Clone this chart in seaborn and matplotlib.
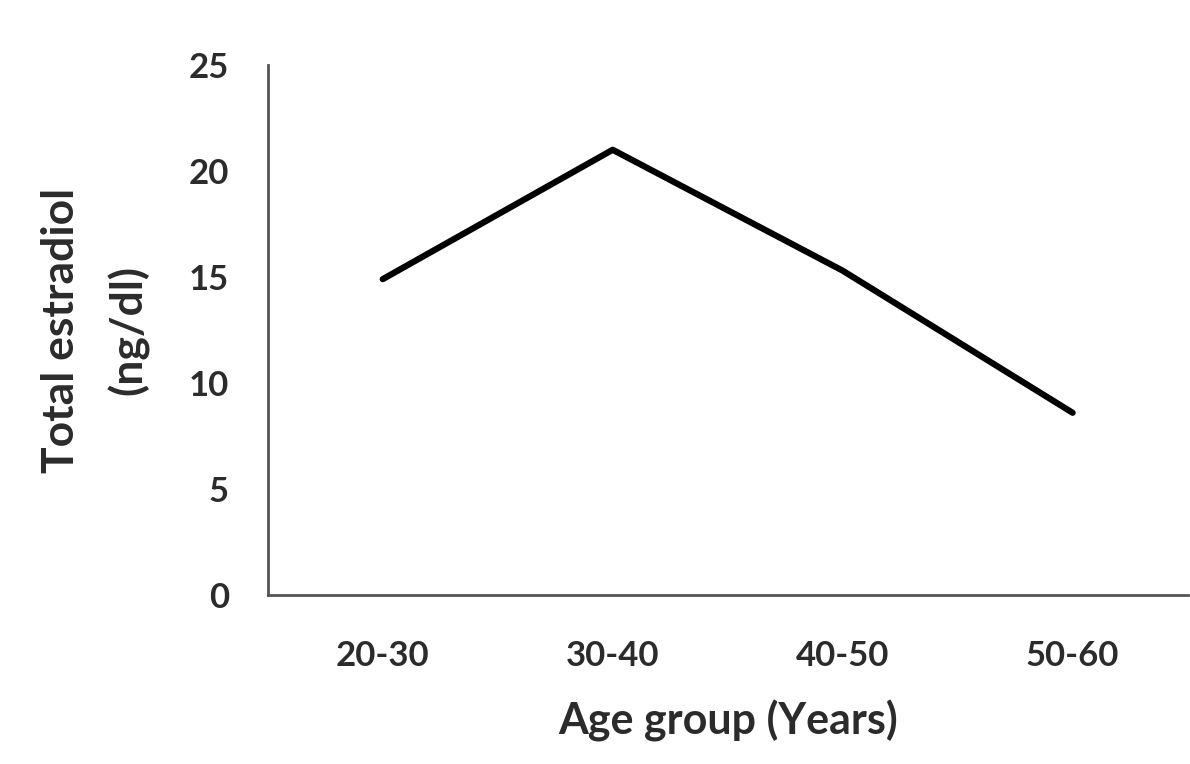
import pandas as pd
import matplotlib.pyplot as plt
import seaborn as sns

# values
age_groups = ["20-30", "30-40", "40-50", "50-60"]
estradiol = [14.9, 21.0, 15.3, 8.6]
y_ticks = [0, 5, 10, 15, 20, 25]

df = pd.DataFrame({"age": age_groups, "e2": estradiol})

sns.set_style("white")
plt.rcParams["font.family"] = ["Lato", "DejaVu Sans"]
text_col = "#2b2b2b"

fig = plt.figure(figsize=(11.9, 7.64), dpi=100)
ax = fig.add_axes([0.225, 0.221, 0.773, 0.694])

sns.lineplot(data=df, x="age", y="e2", color="black", linewidth=4.5,
             sort=False, ax=ax)

ax.set_xlim(-0.5, 3.5)
ax.set_ylim(0, 25)
ax.set_yticks(y_ticks)
ax.tick_params(axis="both", length=0, labelsize=25, labelcolor=text_col)
for lbl in ax.get_xticklabels() + ax.get_yticklabels():
    lbl.set_fontweight("bold")
ax.tick_params(axis="x", pad=32)
ax.tick_params(axis="y", pad=28)

ax.set_xlabel("Age group (Years)", fontsize=31, fontweight="bold", color=text_col, labelpad=20)
ax.set_ylabel("Total estradiol\n(ng/dl)", fontsize=32, fontweight="bold", color=text_col,
              labelpad=28, linespacing=1.75)

sns.despine(ax=ax)
for side in ["left", "bottom"]:
    ax.spines[side].set_color("#555555")
    ax.spines[side].set_linewidth(2)

fig.savefig("out.png", dpi=100)
